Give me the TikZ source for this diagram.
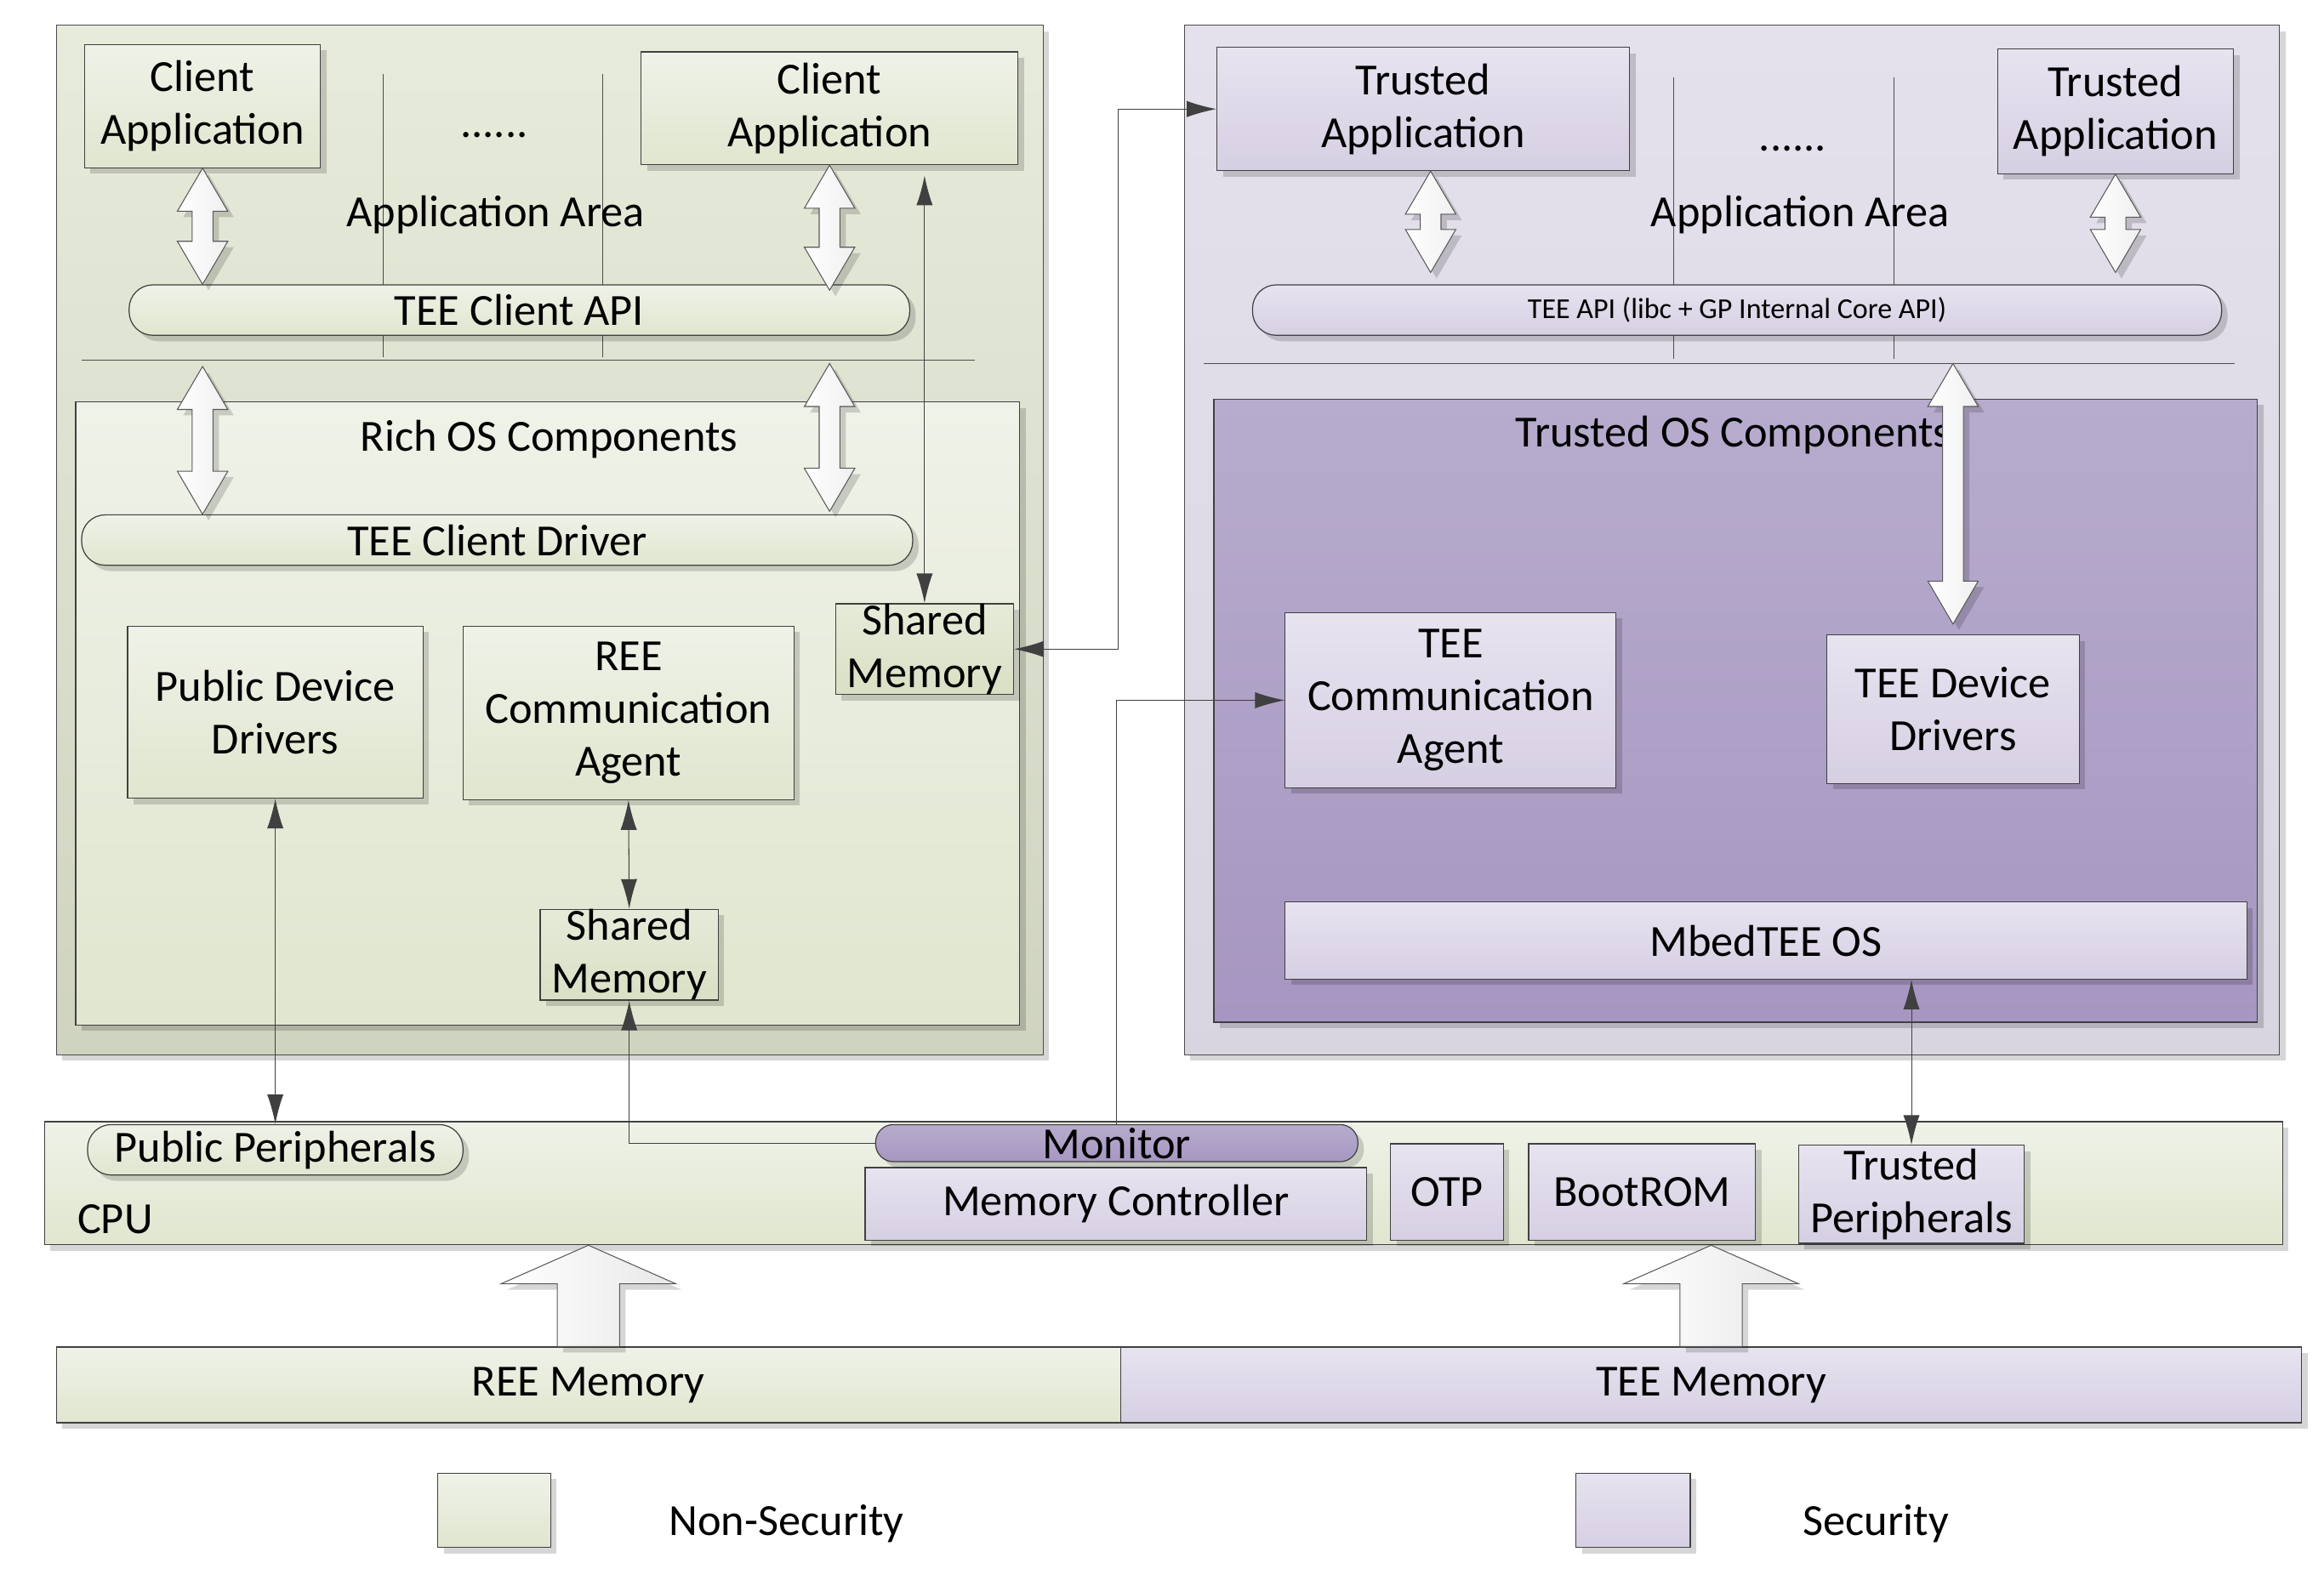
\documentclass[tikz,border=0pt]{standalone}
\usepackage{fontspec}
\setmainfont{Carlito}
\usetikzlibrary{arrows.meta,calc,shadows}

\definecolor{grtop}{HTML}{EFF2E8}
\definecolor{grbot}{HTML}{E0E6CF}
\definecolor{grout}{HTML}{E1E6D1}
\definecolor{grshm}{HTML}{D9E0C4}
\definecolor{pltop}{HTML}{E7E3EF}
\definecolor{plbot}{HTML}{D6CFE3}
\definecolor{plout}{HTML}{E4E0EC}
\definecolor{pdtop}{HTML}{B7ACCD}
\definecolor{pdbot}{HTML}{A696C1}
\definecolor{edge}{HTML}{404040}

% double block arrow, first point on top
\newcommand{\fatlink}[2]{%
  \path[fatarr] let \p1=#1, \p2=#2 in
    (\x1,\y1) -- (\x1+17pt,\y1-29pt) -- (\x1+7pt,\y1-29pt) -- (\x1+7pt,\y2+29pt)
    -- (\x1+17pt,\y2+29pt) -- (\x1,\y2) -- (\x1-17pt,\y2+29pt) -- (\x1-7pt,\y2+29pt)
    -- (\x1-7pt,\y1-29pt) -- (\x1-17pt,\y1-29pt) -- cycle;}
% big single block arrow, bottom point first
\newcommand{\bigup}[2]{%
  \path[bigarr] let \p1=#1, \p2=#2 in
    (\x1-21pt,\y1) -- (\x1-21pt,\y2-26pt) -- (\x1-59pt,\y2-26pt) -- (\x1,\y2)
    -- (\x1+59pt,\y2-26pt) -- (\x1+21pt,\y2-26pt) -- (\x1+21pt,\y1) -- cycle;}

\begin{document}
\begin{tikzpicture}[x=1pt,y=-1pt,>={Latex[length=20pt,width=11pt]},
  every node/.style={font=\fontsize{30}{35.5}\selectfont, align=center, inner sep=0pt},
  sh/.style={drop shadow={shadow xshift=4pt,shadow yshift=-4pt,opacity=0.16,fill=black}},
  outg/.style={draw=black!70, line width=0.7pt, top color=grout!80!white, bottom color=grout!92!black, sh},
  outp/.style={draw=black!70, line width=0.7pt, top color=plout, bottom color=plout!95!black, sh},
  gbox/.style={draw=black!75, line width=0.7pt, top color=grtop, bottom color=grbot, sh},
  pbox/.style={draw=black!75, line width=0.7pt, top color=pltop, bottom color=plbot, sh},
  shm/.style={draw=black!75, line width=0.7pt, top color=grtop!60!grshm, bottom color=grshm, sh},
  dbox/.style={draw=black!75, line width=0.7pt, top color=pdtop, bottom color=pdbot, sh},
  gpill/.style={gbox, rounded corners=16pt},
  ppill/.style={pbox, rounded corners=16pt},
  dpill/.style={dbox, rounded corners=12pt},
  sepline/.style={draw=black!70, line width=0.6pt},
  thin/.style={draw=black!70, line width=0.5pt},
  link/.style={draw=edge, line width=0.6pt},
  fatarr/.style={draw=black!65, line width=0.6pt, left color=white, right color=gray!12, sh},
  bigarr/.style={draw=black!65, line width=0.6pt, left color=white, right color=gray!18, sh}]
\useasboundingbox (0,0) rectangle (1566,1068.5);

% REE side
\node[outg, minimum width=665pt, minimum height=694pt] (ree) at (370.5,364) {};
\draw[thin] (258,50) -- (258,241);
\draw[thin] (406,50) -- (406,241);
\draw[sepline] (55,243) coordinate (sepl) -- (657,243);
\node[gbox, minimum width=636pt, minimum height=420pt] (ros) at (369,481) {};
\node at (370,296) {Rich OS Components};
\node[gbox, minimum width=159pt, minimum height=83pt] (ca1) at (136.5,71.5) {Client\\Application};
\node[gbox, minimum width=254pt, minimum height=76pt] (ca2) at (559,73) {Client\\Application};
\node at (333,91) {......};
\node at (334,145) {Application Area};
\node[gpill, minimum width=526pt, minimum height=34pt] (capi) at (350,209) {TEE Client API};
\node[gpill, minimum width=560pt, minimum height=34pt] (cdrv) at (335,364) {TEE Client Driver};
\node[shm, minimum width=120pt, minimum height=59pt] (smr) at (623,437.5) {Shared\\Memory};
\node[gbox, minimum width=199pt, minimum height=116pt] (pdd) at (185.5,480) {Public Device\\Drivers};
\node[gbox, minimum width=223pt, minimum height=117pt] (rca) at (423.5,480.5) {REE\\Communication\\Agent};
\node[shm, minimum width=120pt, minimum height=59pt] (smb) at (424,643.5) {Shared\\Memory};

% TEE side
\node[outp, minimum width=738pt, minimum height=694pt] (tee) at (1167,364) {};
\draw[thin] (1128,52) -- (1128,242);
\draw[thin] (1276,52) -- (1276,242);
\draw[sepline] (811,245) coordinate (sepr) -- (1506,245);
\node[dbox, minimum width=703pt, minimum height=420pt] (tos) at (1169.5,479) {};
\node at (1168,293) {Trusted OS Components};
\node[pbox, minimum width=278pt, minimum height=83pt] (ta1) at (959,73.5) {Trusted\\Application};
\node[pbox, minimum width=159pt, minimum height=84pt] (ta2) at (1425.5,75) {Trusted\\Application};
\node at (1208,100) {......};
\node at (1213,145) {Application Area};
\node[ppill, minimum width=653pt, minimum height=34pt, font=\fontsize{19.5}{23}\selectfont] (tapi) at (1170.5,209) {TEE API (libc + GP Internal Core API)};
\node[pbox, minimum width=223pt, minimum height=118pt] (tca) at (977.5,472) {TEE\\Communication\\Agent};
\node[pbox, minimum width=170pt, minimum height=100pt] (tdd) at (1316,478) {TEE Device\\Drivers};
\node[pbox, minimum width=648pt, minimum height=52pt] (mbed) at (1190,634) {MbedTEE OS};

% CPU
\node[gbox, minimum width=1508pt, minimum height=83pt] (cpu) at (784,797.5) {};
\node[anchor=west] at (52,822) {CPU};
\node[gpill, minimum width=253pt, minimum height=34pt] (pp) at (185.5,775) {Public Peripherals};
\node[pbox, minimum width=338pt, minimum height=49pt] (mc) at (752,811.5) {Memory Controller};
\node[dpill, minimum width=325pt, minimum height=25pt] (mon) at (752.5,770.5) {Monitor};
\node[pbox, minimum width=76pt, minimum height=65pt] (otp) at (975,803.5) {OTP};
\node[pbox, minimum width=153pt, minimum height=65pt] (brom) at (1106.5,803.5) {BootROM};
\node[pbox, minimum width=152pt, minimum height=66pt] (tp) at (1288,805) {Trusted\\Peripherals};

% memory
\node[gbox, minimum width=717pt, minimum height=51pt] (reem) at (396.5,933.5) {REE Memory};
\node[pbox, minimum width=796pt, minimum height=51pt] (teem) at (1153,933.5) {TEE Memory};

% legend
\node[gbox, minimum width=76pt, minimum height=50pt] (lgg) at (333,1018) {};
\node at (530,1027) {Non-Security};
\node[pbox, minimum width=77pt, minimum height=50pt] (lgp) at (1100.5,1018) {};
\node at (1264,1027) {Security};

% block arrows
\fatlink{(ca1.south)}{(ca1.south |- capi.north)}
\fatlink{(ca2.south)}{([yshift=-4pt]ca2.south |- capi.north)}
\fatlink{([yshift=-4pt]ca1.south |- sepl)}{(ca1.south |- cdrv.north)}
\fatlink{([yshift=-2pt]ca2.south |- sepl)}{([yshift=2pt]ca2.south |- cdrv.north)}
\fatlink{([xshift=5pt]ta1.south)}{([xshift=5pt,yshift=8pt]ta1.south |- tapi.north)}
\fatlink{(ta2.south)}{([yshift=8pt]ta2.south |- tapi.north)}
\fatlink{(tdd.north |- sepr)}{([yshift=7pt]tdd.north)}
\bigup{(reem.north)}{(reem.north |- cpu.south)}
\bigup{(teem.north)}{(teem.north |- cpu.south)}

% links
\draw[link,<->] ([yshift=-7pt]ca2.south -| smr.north) -- (smr.north);
\draw[link,<->] (smr.east) -- ++(70,0) |- (ta1.west);
\draw[link,<->] (pdd.south) -- (pp.north);
\draw[link,<->] (rca.south) -- (smb.north);
\draw[link,->] (mon.west) -| (smb.south);
\draw[link,->] (mon.north) |- (tca.west);
\draw[link,<->] (mbed.south -| tp.north) -- (tp.north);
\end{tikzpicture}
\end{document}
